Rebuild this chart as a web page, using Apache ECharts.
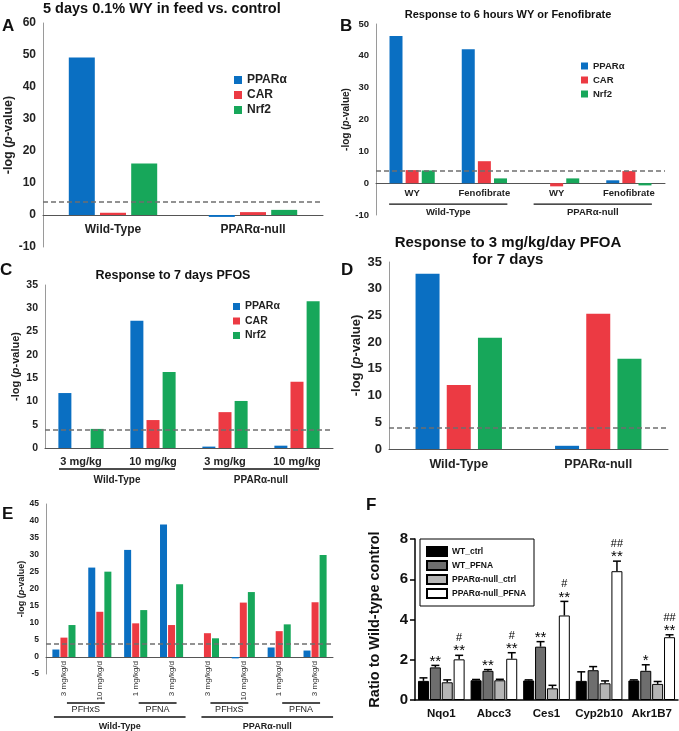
<!DOCTYPE html>
<html>
<head>
<meta charset="utf-8">
<script src="https://cdn.jsdelivr.net/npm/echarts@6/dist/echarts.min.js"></script>
<style>
  html, body { margin: 0; padding: 0; background: #fff; }
  #main { width: 679px; height: 731px; }
</style>
</head>
<body>
<div id="main"></div>
<script>
var FONT = 'Liberation Sans, Arial, sans-serif';
var genes = ['PPARα', 'CAR', 'Nrf2'];
var geneColors = ['#0a6fc2', '#ec3a43', '#17a75a'];
var threshold = 4;

// A - 5 days WY in feed
var catA = ['Wild-Type', 'PPARα-null'];
var aPPARa = [49.2, -0.6];
var aCAR = [0.7, 0.9];
var aNrf2 = [16.1, 1.6];

// B - 6 hours WY / Fenofibrate
var catB = ['WY', 'Fenofibrate', 'WY', 'Fenofibrate'];
var bPPARa = [46.2, 42.1, 0, 0.9];
var bCAR = [4.1, 6.9, -1.0, 3.8];
var bNrf2 = [4.0, 1.5, 1.5, -0.7];

// C - 7 days PFOS
var catC = ['3 mg/kg', '10 mg/kg', '3 mg/kg', '10 mg/kg'];
var cPPARa = [11.8, 27.3, 0.3, 0.5];
var cCAR = [0, 6.0, 7.7, 14.2];
var cNrf2 = [4.1, 16.3, 10.1, 31.5];

// D - PFOA 3 mg/kg/day
var catD = ['Wild-Type', 'PPARα-null'];
var dPPARa = [32.8, 0.6];
var dCAR = [12.0, 25.3];
var dNrf2 = [20.8, 16.9];

// E - PFHxS / PFNA
var catE = ['3 mg/kg/d', '10 mg/kg/d', '1 mg/kg/d', '3 mg/kg/d', '3 mg/kg/d', '10 mg/kg/d', '1 mg/kg/d', '3 mg/kg/d'];
var ePPARa = [2.2, 26.3, 31.5, 39.0, 0, -0.4, 2.8, 1.9];
var eCAR = [5.7, 13.3, 9.9, 9.4, 7.0, 16.0, 7.6, 16.1];
var eNrf2 = [9.4, 25.1, 13.8, 21.4, 5.5, 19.1, 9.6, 30.0];

// F - qPCR ratio to WT control
var catF = ['Nqo1', 'Abcc3', 'Ces1', 'Cyp2b10', 'Akr1B7'];
var fNames = ['WT_ctrl', 'WT_PFNA', 'PPARα-null_ctrl', 'PPARα-null_PFNA'];
var fColors = ['#000000', '#6e6e6e', '#b5b5b5', '#ffffff'];
var fWTctrl = [0.95, 0.98, 0.97, 0.95, 0.97];
var fWTpfna = [1.62, 1.45, 2.65, 1.48, 1.45];
var fNullCtrl = [0.88, 0.98, 0.58, 0.83, 0.80];
var fNullPfna = [2.02, 2.05, 4.20, 6.40, 3.12];
var fErrWTctrl = [0.15, 0.04, 0.03, 0.45, 0.03];
var fErrWTpfna = [0.10, 0.06, 0.25, 0.18, 0.30];
var fErrNullCtrl = [0.12, 0.05, 0.15, 0.12, 0.12];
var fErrNullPfna = [0.20, 0.30, 0.70, 0.50, 0.12];
var fStarWTpfna = ['**', '**', '**', '', '*'];
var fStarNullPfna = ['**', '**', '**', '**', '**'];
var fHashNullPfna = ['#', '#', '#', '##', '##'];

var chart = echarts.init(document.getElementById('main'));

function valueAxis(gi, min, max, step, fs, nameFs, gap) {
  return {
    type: 'value', gridIndex: gi, min: min, max: max, interval: step,
    axisLine: { show: true, lineStyle: { color: '#9a9a9a', width: 1 } },
    axisTick: { show: false },
    splitLine: { show: false },
    axisLabel: { fontFamily: FONT, fontWeight: 'bold', fontSize: fs, color: '#222', margin: 7 },
    name: '-log ({i|p}-value)', nameLocation: 'middle', nameGap: gap, nameRotate: 90,
    nameTextStyle: {
      fontFamily: FONT, fontWeight: 'bold', fontSize: nameFs, color: '#222',
      rich: { i: { fontFamily: FONT, fontStyle: 'italic', fontWeight: 'bold', fontSize: nameFs, color: '#222' } }
    }
  };
}

// labels sit at the grid bottom, so a negative margin pulls them up under the zero line
function catAxis(gi, data, fs, margin) {
  return {
    type: 'category', gridIndex: gi, data: data,
    axisLine: { onZero: true, lineStyle: { color: '#555', width: 1 } },
    axisTick: { show: false },
    axisLabel: { fontFamily: FONT, fontWeight: 'bold', fontSize: fs, color: '#222', margin: margin, interval: 0 }
  };
}

function geneSeries(gi, lists, bw, gap) {
  return lists.map(function (vals, k) {
    var s = {
      name: genes[k], type: 'bar', xAxisIndex: gi, yAxisIndex: gi, data: vals,
      barWidth: bw, barGap: gap, silent: true,
      itemStyle: { color: geneColors[k] }
    };
    if (k === 0) {
      s.markLine = {
        silent: true, symbol: 'none', label: { show: false },
        lineStyle: { type: [5, 3], color: '#6f6f6f', width: 1.5 },
        data: [{ yAxis: threshold }]
      };
    }
    return s;
  });
}

function geneLegend(left, top, fs, gap, size) {
  return {
    data: genes, left: left, top: top, orient: 'vertical', icon: 'rect',
    itemWidth: size, itemHeight: size, itemGap: gap, selectedMode: false,
    textStyle: { fontFamily: FONT, fontWeight: 'bold', fontSize: fs, color: '#222' },
    padding: 0
  };
}

function heading(text, left, top, fs, weight, align, lh) {
  return {
    text: text, left: left, top: top, padding: 0, textAlign: align || 'left',
    textStyle: { fontFamily: FONT, fontWeight: weight || 'bold', fontSize: fs, color: '#111', lineHeight: lh || fs * 1.2 }
  };
}

// error bars and significance marks for panel F
var fVals = [fWTctrl, fWTpfna, fNullCtrl, fNullPfna];
var fErrs = [fErrWTctrl, fErrWTpfna, fErrNullCtrl, fErrNullPfna];
var fBarW = 11;
var fPitch = 11.9;
var fRecords = [];
fVals.forEach(function (vals, k) {
  vals.forEach(function (v, c) {
    fRecords.push({
      c: c, k: k, v: v, e: fErrs[k][c],
      star: k === 1 ? fStarWTpfna[c] : (k === 3 ? fStarNullPfna[c] : ''),
      hash: k === 3 ? fHashNullPfna[c] : ''
    });
  });
});

var fSeries = fVals.map(function (vals, k) {
  return {
    name: fNames[k], type: 'bar', xAxisIndex: 5, yAxisIndex: 5, data: vals,
    barWidth: fBarW, barGap: '8%', silent: true,
    itemStyle: { color: fColors[k], borderColor: '#000', borderWidth: 1 }
  };
});

fSeries.push({
  type: 'custom', xAxisIndex: 5, yAxisIndex: 5, silent: true, z: 5,
  data: fRecords.map(function (r) { return [r.c, r.v + r.e]; }),
  renderItem: function (params, api) {
    var r = fRecords[params.dataIndex];
    var base = api.coord([r.c, r.v]);
    var top = api.coord([r.c, r.v + r.e]);
    var x = base[0] + (r.k - 1.5) * fPitch;
    var st = { stroke: '#000', lineWidth: 1.5 };
    var kids = [
      { type: 'line', shape: { x1: x, y1: base[1], x2: x, y2: top[1] }, style: st },
      { type: 'line', shape: { x1: x - 4, y1: top[1], x2: x + 4, y2: top[1] }, style: st }
    ];
    if (r.star) {
      kids.push({ type: 'text', style: { text: r.star, x: x, y: top[1] - 4, align: 'center', verticalAlign: 'middle', textAlign: 'center', textVerticalAlign: 'middle', font: '15px ' + FONT, fill: '#000' } });
    }
    if (r.hash) {
      kids.push({ type: 'text', style: { text: r.hash, x: x, y: top[1] - 17, align: 'center', verticalAlign: 'middle', textAlign: 'center', textVerticalAlign: 'middle', font: '11px ' + FONT, fill: '#000' } });
    }
    return { type: 'group', children: kids };
  }
});

var option = {
  animation: false,
  backgroundColor: '#fff',
  title: [
    heading('5 days 0.1% WY in feed vs. control', 43, 0, 14.5),
    heading('A', 2, 16, 17),
    heading('Response to 6 hours WY or Fenofibrate', 508, 8, 11, 'bold', 'center'),
    heading('B', 340, 16, 17),
    heading('Response to 7 days PFOS', 173, 268, 12.5, 'bold', 'center'),
    heading('C', 0, 260, 17),
    heading('Response to 3 mg/kg/day PFOA\nfor 7 days', 508, 234, 15, 'bold', 'center', 17),
    heading('D', 341, 260, 17),
    heading('E', 2, 504, 17),
    heading('F', 366, 495, 17)
  ],
  legend: [
    geneLegend(234, 74, 12, 3, 8),
    geneLegend(581, 61, 9.5, 4, 7),
    geneLegend(233, 301, 10.5, 3.5, 7),
    {
      data: fNames, left: 420, top: 539, orient: 'vertical', icon: 'rect',
      itemWidth: 20, itemHeight: 9, itemGap: 3, selectedMode: false,
      borderColor: '#000', borderWidth: 1, padding: [7, 8, 7, 6],
      textStyle: { fontFamily: FONT, fontWeight: 'bold', fontSize: 8.5, color: '#111' }
    }
  ],
  grid: [
    { left: 43, right: 356, top: 23, bottom: 484 },
    { left: 376, right: 14, top: 24, bottom: 516 },
    { left: 45, right: 346, top: 285, bottom: 283 },
    { left: 389, right: 11, top: 262, bottom: 282 },
    { left: 46, right: 346, top: 504, bottom: 57 },
    { left: 415, right: 1, top: 539, bottom: 31 }
  ],
  xAxis: [
    catAxis(0, catA, 12, -23),
    catAxis(1, catB, 9.5, -27),
    catAxis(2, catC, 11, 8),
    catAxis(3, catD, 12.5, 9),
    {
      type: 'category', gridIndex: 4, data: catE,
      axisLine: { onZero: true, lineStyle: { color: '#555', width: 1 } },
      axisTick: { show: false },
      axisLabel: { fontFamily: FONT, fontSize: 8, color: '#333', rotate: 90, margin: -13, interval: 0 }
    },
    {
      type: 'category', gridIndex: 5, data: catF,
      axisLine: { lineStyle: { color: '#000', width: 1.5 } },
      axisTick: { show: false },
      axisLabel: { fontFamily: FONT, fontWeight: 'bold', fontSize: 11.5, color: '#111', margin: 8, interval: 0 }
    }
  ],
  yAxis: [
    valueAxis(0, -10, 60, 10, 12, 12.5, 24),
    valueAxis(1, -10, 50, 10, 9.5, 10, 20),
    valueAxis(2, 0, 35, 5, 10.5, 11, 24),
    valueAxis(3, 0, 35, 5, 13, 13, 26),
    valueAxis(4, -5, 45, 5, 8.5, 9, 19),
    {
      type: 'value', gridIndex: 5, min: 0, max: 8, interval: 2,
      axisLine: { show: true, lineStyle: { color: '#000', width: 1.5 } },
      axisTick: { show: true, inside: false, length: 5, lineStyle: { color: '#000', width: 1.5 } },
      splitLine: { show: false },
      axisLabel: { fontFamily: FONT, fontWeight: 'bold', fontSize: 15, color: '#111', margin: 7 },
      name: 'Ratio to Wild-type control', nameLocation: 'middle', nameGap: 33, nameRotate: 90,
      nameTextStyle: { fontFamily: FONT, fontWeight: 'bold', fontSize: 14.5, color: '#111' }
    }
  ],
  series: [].concat(
    geneSeries(0, [aPPARa, aCAR, aNrf2], 26, '20%'),
    geneSeries(1, [bPPARa, bCAR, bNrf2], 13, '24%'),
    geneSeries(2, [cPPARa, cCAR, cNrf2], 13, '24%'),
    geneSeries(3, [dPPARa, dCAR, dNrf2], 24, '30%'),
    geneSeries(4, [ePPARa, eCAR, eNrf2], 7, '15%'),
    fSeries
  )
};

chart.setOption(option);

// group brackets under category labels (B, C, E)
var brackets = [];
function bracket(ax, a, b, padL, padR, dy, label, textDy, font) {
  var x0 = chart.convertToPixel({ xAxisIndex: ax }, a) - padL;
  var x1 = chart.convertToPixel({ xAxisIndex: ax }, b) + padR;
  var y0 = chart.convertToPixel({ yAxisIndex: ax }, 0);
  brackets.push({
    type: 'line', silent: true,
    shape: { x1: x0, y1: y0 + dy, x2: x1, y2: y0 + dy },
    style: { stroke: '#111', lineWidth: 1.3 }
  });
  brackets.push({
    type: 'text', silent: true, x: (x0 + x1) / 2, y: y0 + textDy,
    style: { text: label, x: 0, y: 0, align: 'center', verticalAlign: 'middle', textAlign: 'center', textVerticalAlign: 'middle', font: font, fill: '#222' }
  });
}
bracket(1, 0, 1, 23, 23, 21, 'Wild-Type', 29, 'bold 9.5px ' + FONT);
bracket(1, 2, 3, 23, 23, 21, 'PPARα-null', 29, 'bold 9.5px ' + FONT);
bracket(2, 0, 1, 22, 22, 21, 'Wild-Type', 32, 'bold 10px ' + FONT);
bracket(2, 2, 3, 22, 22, 21, 'PPARα-null', 32, 'bold 10px ' + FONT);
bracket(4, 0, 1, -3, 5, 46, 'PFHxS', 53, '9px ' + FONT);
bracket(4, 2, 3, -3, 5, 46, 'PFNA', 53, '9px ' + FONT);
bracket(4, 4, 5, -3, 5, 46, 'PFHxS', 53, '9px ' + FONT);
bracket(4, 6, 7, -3, 5, 46, 'PFNA', 53, '9px ' + FONT);
bracket(4, 0, 3, 10, 14, 60, 'Wild-Type', 70, 'bold 9px ' + FONT);
bracket(4, 4, 7, 6, 18, 60, 'PPARα-null', 70, 'bold 9px ' + FONT);

chart.setOption({ graphic: brackets });
</script>
</body>
</html>
